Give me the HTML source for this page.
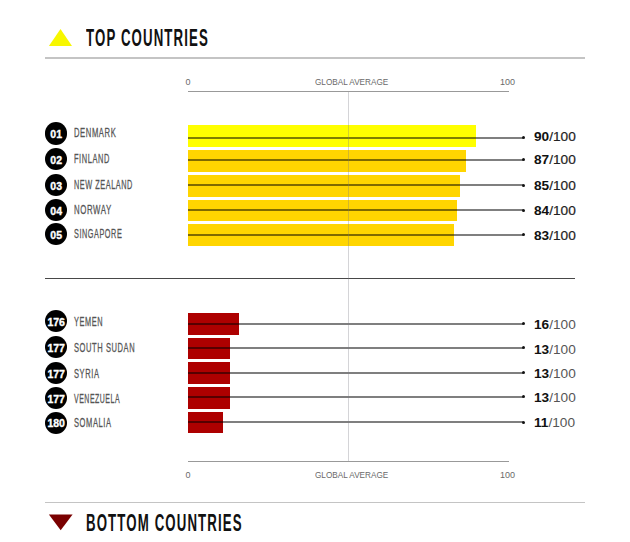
<!DOCTYPE html>
<html><head><meta charset="utf-8"><style>
html,body{margin:0;padding:0;background:#fff;width:630px;height:542px;overflow:hidden;position:relative;font-family:"Liberation Sans",sans-serif}
div{position:absolute;white-space:nowrap;line-height:1}
.hl{left:45px;width:540px;height:1.6px;background:#c4c4c4}
.title{left:86.2px;font-size:23.5px;letter-spacing:2px;font-weight:bold;color:#111;transform-origin:0 0;transform:scaleX(0.563)}
.axl{left:188px;width:321px;height:1.7px;background:#999}
.ax{font-size:9px;color:#6a6a6a}
.vline{left:348px;top:92px;width:1px;height:369px;background:rgba(120,120,130,0.32);z-index:2}
.sep{left:45px;top:277.5px;width:529.5px;height:1.7px;background:#484848}
.bar{}
.ln{left:188px;width:335px;height:2px;background:rgba(0,0,0,0.5)}
.dot{left:522.2px;width:3.2px;height:3.2px;border-radius:50%;background:#111}
.circ{left:45px;width:22.4px;height:22.4px;border-radius:50%;background:#000}
.circ span{position:absolute;left:0;right:0;top:6.9px;text-align:center;color:#fff;font-weight:bold;font-size:10.5px;line-height:1;-webkit-text-stroke:0.35px #fff}
.circ span.n2{}
.lab{left:74.1px;font-size:13px;color:#555;letter-spacing:1px;-webkit-text-stroke:0.3px #555;transform-origin:0 0}
.val{left:534px;font-size:13px}
.vt{color:#222;-webkit-text-stroke:0.2px #222;transform-origin:0 0;transform:scaleX(1.05)}
.vt b{color:#111;-webkit-text-stroke:0}
.vb{color:#555;transform-origin:0 0;transform:scaleX(1.05)}
.vb b{color:#111}
</style></head><body>
<svg style="position:absolute;left:0;top:0" width="630" height="542">
<polygon points="48.9,46 60.5,29 72,46" fill="#F7F700"/>
<polygon points="48.9,514.6 72.6,514.6 60.7,530.3" fill="#7A0000"/>
</svg>
<div class="title" style="top:27.4px">TOP COUNTRIES</div>
<div class="hl" style="top:57.2px"></div>
<div class="ax" style="left:185.5px;top:78px">0</div>
<div class="ax" style="left:315px;top:78px;transform-origin:0 0;transform:scaleX(0.91)">GLOBAL AVERAGE</div>
<div class="ax" style="left:500px;top:78px">100</div>
<div class="axl" style="top:90.7px"></div>
<div class="vline"></div>
<div class="bar" style="left:188px;top:124.8px;width:288.0px;height:22.2px;background:#FFFF00"></div>
<div class="ln" style="top:136.6px"></div>
<div class="dot" style="top:136.0px"></div>
<div class="circ" style="top:122.3px"><span class="n2">01</span></div>
<div class="lab" style="top:126.3px;transform:scaleX(0.588)">DENMARK</div>
<div class="val vt" style="top:129.5px"><b>90</b><span>/100</span></div>
<div class="bar" style="left:188px;top:150.0px;width:278.2px;height:21.8px;background:#FFD500"></div>
<div class="ln" style="top:158.7px"></div>
<div class="dot" style="top:158.1px"></div>
<div class="circ" style="top:147.8px"><span class="n2">02</span></div>
<div class="lab" style="top:152.0px;transform:scaleX(0.572)">FINLAND</div>
<div class="val vt" style="top:153.0px"><b>87</b><span>/100</span></div>
<div class="bar" style="left:188px;top:174.8px;width:271.8px;height:22.0px;background:#FFD500"></div>
<div class="ln" style="top:184.3px"></div>
<div class="dot" style="top:183.7px"></div>
<div class="circ" style="top:174.1px"><span class="n2">03</span></div>
<div class="lab" style="top:178.3px;transform:scaleX(0.562)">NEW ZEALAND</div>
<div class="val vt" style="top:179.3px"><b>85</b><span>/100</span></div>
<div class="bar" style="left:188px;top:199.6px;width:268.8px;height:21.8px;background:#FFD500"></div>
<div class="ln" style="top:209.4px"></div>
<div class="dot" style="top:208.8px"></div>
<div class="circ" style="top:199.1px"><span class="n2">04</span></div>
<div class="lab" style="top:202.9px;transform:scaleX(0.603)">NORWAY</div>
<div class="val vt" style="top:204.0px"><b>84</b><span>/100</span></div>
<div class="bar" style="left:188px;top:223.8px;width:265.6px;height:22.0px;background:#FFD500"></div>
<div class="ln" style="top:233.8px"></div>
<div class="dot" style="top:233.2px"></div>
<div class="circ" style="top:222.8px"><span class="n2">05</span></div>
<div class="lab" style="top:227.0px;transform:scaleX(0.560)">SINGAPORE</div>
<div class="val vt" style="top:228.6px"><b>83</b><span>/100</span></div>
<div class="bar" style="left:188px;top:313.0px;width:51.2px;height:21.7px;background:#AD0000"></div>
<div class="ln" style="top:322.7px"></div>
<div class="dot" style="top:322.1px"></div>
<div class="circ" style="top:310.1px"><span class="n3">176</span></div>
<div class="lab" style="top:314.9px;transform:scaleX(0.567)">YEMEN</div>
<div class="val vb" style="top:317.9px"><b>16</b><span>/100</span></div>
<div class="bar" style="left:188px;top:337.9px;width:41.5px;height:21.3px;background:#AD0000"></div>
<div class="ln" style="top:346.8px"></div>
<div class="dot" style="top:346.2px"></div>
<div class="circ" style="top:335.8px"><span class="n3">177</span></div>
<div class="lab" style="top:340.6px;transform:scaleX(0.579)">SOUTH SUDAN</div>
<div class="val vb" style="top:342.9px"><b>13</b><span>/100</span></div>
<div class="bar" style="left:188px;top:362.3px;width:41.5px;height:21.4px;background:#AD0000"></div>
<div class="ln" style="top:371.6px"></div>
<div class="dot" style="top:371.0px"></div>
<div class="circ" style="top:361.8px"><span class="n3">177</span></div>
<div class="lab" style="top:366.5px;transform:scaleX(0.579)">SYRIA</div>
<div class="val vb" style="top:366.6px"><b>13</b><span>/100</span></div>
<div class="bar" style="left:188px;top:387.3px;width:41.5px;height:21.3px;background:#AD0000"></div>
<div class="ln" style="top:395.8px"></div>
<div class="dot" style="top:395.2px"></div>
<div class="circ" style="top:386.8px"><span class="n3">177</span></div>
<div class="lab" style="top:391.6px;transform:scaleX(0.534)">VENEZUELA</div>
<div class="val vb" style="top:390.5px"><b>13</b><span>/100</span></div>
<div class="bar" style="left:188px;top:411.7px;width:35.2px;height:21.6px;background:#AD0000"></div>
<div class="ln" style="top:421.1px"></div>
<div class="dot" style="top:420.5px"></div>
<div class="circ" style="top:411.5px"><span class="n3">180</span></div>
<div class="lab" style="top:415.7px;transform:scaleX(0.579)">SOMALIA</div>
<div class="val vb" style="top:416.1px"><b>11</b><span>/100</span></div>
<div class="sep"></div>
<div class="axl" style="top:460.8px"></div>
<div class="ax" style="left:185.5px;top:471px">0</div>
<div class="ax" style="left:315px;top:471px;transform-origin:0 0;transform:scaleX(0.91)">GLOBAL AVERAGE</div>
<div class="ax" style="left:500px;top:471px">100</div>
<div class="hl" style="top:501.7px"></div>
<div class="title" style="top:511.7px;left:85.9px">BOTTOM COUNTRIES</div>
</body></html>
